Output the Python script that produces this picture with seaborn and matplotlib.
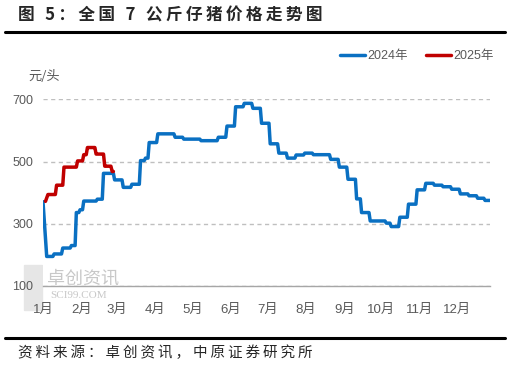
import pandas as pd
import matplotlib.pyplot as plt
import seaborn as sns
from matplotlib import font_manager
from matplotlib.lines import Line2D
from matplotlib.patches import Rectangle

# 2024年: 价格变动日(年内第几天) 与对应价格(元/头)
days_2024 = [0, 3, 9, 16, 23, 27, 30, 33, 44, 49, 58, 65, 72, 79, 83, 86, 93, 107, 114, 128,
             142, 149, 156, 163, 170, 177, 184, 191, 198, 205, 212, 219, 233, 240, 247, 254,
             258, 265, 278, 282, 289, 296, 303, 310, 317, 324, 331, 338, 345, 352, 358]
price_2024 = [371, 195, 203, 222, 230, 336, 345, 373, 379, 462, 441, 417, 427, 503, 511, 561,
              589, 578, 572, 567, 578, 614, 676, 687, 671, 623, 557, 527, 511, 521, 527, 522,
              507, 482, 443, 380, 336, 309, 302, 291, 321, 363, 409, 430, 424, 419, 411, 396,
              390, 382, 375]
end_2024 = 362

# 2025年
days_2025 = [2, 4, 11, 17, 28, 33, 36, 43, 50, 56]
price_2025 = [372, 394, 424, 482, 502, 522, 545, 524, 485, 468]
end_2025 = 57

month_starts = [0, 31, 60, 91, 121, 152, 182, 213, 244, 274, 305, 335]
month_labels = [f"{m}月" for m in range(1, 13)]
y_ticks = [100, 300, 500, 700]

title = "图 5：全国 7 公斤仔猪价格走势图"
source = "资料来源：卓创资讯，中原证券研究所"


def daily(days, prices, end):
    # 周度报价按日展开(前值延续), 第一段保持原始连线
    s = pd.Series(prices, index=days)
    idx = [days[0]] + list(range(days[1], end + 1))
    return s.reindex(idx).ffill()


sns.set_theme(style="white")
names = {f.name for f in font_manager.fontManager.ttflist}
narrow = "Liberation Sans Narrow" if "Liberation Sans Narrow" in names else "Liberation Sans"
cjk = ["Noto Sans CJK SC", "DejaVu Sans"]
num_font = [narrow, "Noto Sans CJK SC", "DejaVu Sans"]
plt.rcParams["font.family"] = num_font

s24 = daily(days_2024, price_2024, end_2024)
s25 = daily(days_2025, price_2025, end_2025)

fig = plt.figure(figsize=(5.11, 3.68), dpi=100)
ax = fig.add_axes([43 / 511, 1 - 286 / 368, 447 / 511, (286 - 99.3) / 368])

blue = "#0A70C2"
red = "#C00000"
sns.lineplot(x=s24.index, y=s24.values, ax=ax, color=blue, lw=2.5, label="2024年")
sns.lineplot(x=s25.index, y=s25.values, ax=ax, color=red, lw=2.5, label="2025年")

ax.set_xlim(0, 362)
ax.set_ylim(100, 700)
ax.set_yticks(y_ticks)
ax.set_xticks(month_starts)
ax.set_xticklabels(month_labels)
ax.yaxis.grid(True, linestyle=(0, (3, 2.5)), color="#BFBFBF", lw=1.0)
ax.set_axisbelow(True)
for sp in ["left", "top", "right"]:
    ax.spines[sp].set_visible(False)
ax.spines["bottom"].set_color("#A6A6A6")
ax.spines["bottom"].set_linewidth(1.0)
ax.tick_params(axis="x", direction="out", length=3, width=0.8, color="#A6A6A6",
               pad=10, labelsize=9.5, labelcolor="#595959")
ax.tick_params(axis="y", length=0, pad=7, labelsize=9, labelcolor="#595959")
ax.set_xlabel("")
ax.set_ylabel("")

ax.legend(loc="center right", bbox_to_anchor=(0.988, 0.848), bbox_transform=fig.transFigure,
          ncol=2, frameon=False, fontsize=9, handlelength=2.0, handletextpad=0.15,
          columnspacing=1.5, labelcolor="#595959")

fig.text(28 / 511, 1 - 77 / 368, "元/头", ha="left", va="center", fontsize=9.5,
         color="#595959", family=cjk)

# 水印
fig.add_artist(Rectangle((24 / 511, 1 - 310 / 368), 18 / 511, 45 / 368,
                         transform=fig.transFigure, color="#E6E6E6", zorder=0))
fig.text(47 / 511, 1 - 279 / 368, "卓创资讯", ha="left", va="center", fontsize=13,
         color="#C8C8C8", family=cjk, zorder=0)
fig.text(50 / 511, 1 - 295 / 368, "SCI99.COM", ha="left", va="center", fontsize=8,
         color="#C8C8C8", family="Liberation Serif", zorder=0)

# 标题与来源
fig.text(18 / 511, 1 - 15 / 368, "\u2009".join(title), ha="left", va="center",
         fontsize=12, fontweight="bold", family=cjk)
fig.text(18 / 511, 1 - 353 / 368, "\u2009".join(source), ha="left", va="center",
         fontsize=10.5, family=cjk)
for y in [31.7, 338]:
    fig.add_artist(Line2D([5 / 511, 505 / 511], [1 - y / 368, 1 - y / 368],
                          transform=fig.transFigure, color="black", lw=2.2))

fig.savefig("out.png", dpi=100)
